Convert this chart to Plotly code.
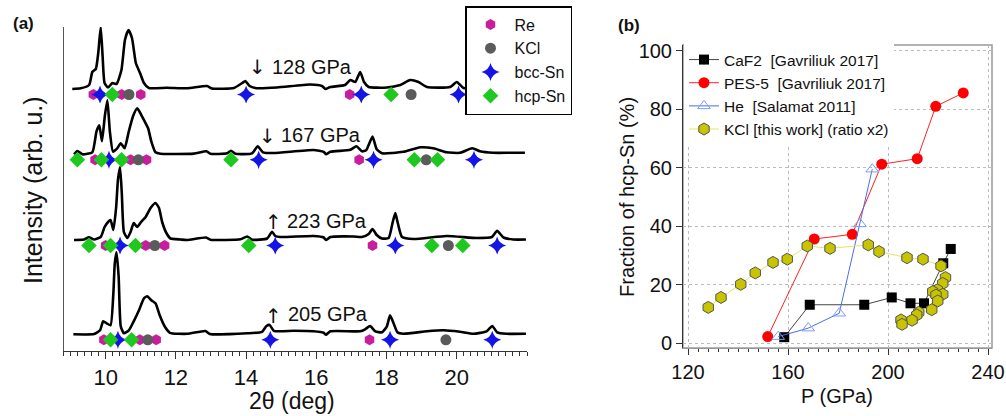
import plotly.graph_objects as go

# ---------------- Panel (a): XRD patterns ----------------
pressures = ["128 GPa", "167 GPa", "223 GPa", "205 GPa"]
arrows = ["↓", "↓", "↑", "↑"]
offsets = [262, 196.7, 111, 16.7]

tt1 = [9.05, 9.29, 9.53, 9.62, 9.72, 9.79, 9.86, 9.915, 9.97, 10.07, 10.19, 10.31, 10.45, 10.55, 10.65,
       10.75, 10.86, 10.98, 11.09, 11.23, 11.75, 12.32, 12.89, 13.03, 13.65, 13.89, 13.98, 14.10, 14.26,
       14.88, 15.83, 16.16, 16.26, 16.40, 16.82, 16.97, 17.11, 17.25, 17.36, 17.49, 18.01, 18.39, 18.67,
       18.91, 19.15, 19.81, 20.0, 20.19, 20.6, 21.2, 21.9]
I1 = [0, 0.7, 4, 17, 20, 36, 62, 32, 6, 1.5, 6, 5, 19, 49, 59, 51, 26, 16, 6, 1, 1.3, 0.7, 3, 0.5, 1,
      6, 8, 3, 1, 1.5, 4.5, 3, 0, 2, 4, 9, 7, 17, 7, 2, 1.5, 4, 9, 7, 2, 2, 7, 1, 1, 1.5, 1]

tt2 = [9.10, 9.195, 9.34, 9.62, 9.74, 9.82, 9.895, 9.98, 10.05, 10.12, 10.21, 10.33, 10.43, 10.54, 10.66,
       10.79, 10.90, 11.02, 11.14, 11.21, 11.30, 11.42, 11.56, 12.51, 12.87, 12.985, 13.46, 13.57, 13.70,
       14.17, 14.33, 14.48, 14.79, 15.92, 16.21, 16.275, 16.40, 16.97, 17.14, 17.30, 17.42, 17.60, 17.72,
       17.87, 18.48, 18.96, 19.33, 19.71, 20.09, 20.44, 20.66, 21.04, 21.52, 21.94]
I2 = [0, 3.3, 0, 2, 23, 29, 13, 39, 54, 23, 2.7, 6, 11, 6, 23, 39, 46, 39, 31, 26, 13, 2, 0.5, 0.7, 3,
      0.5, 1, 3.5, 0.5, 1, 8, 2, 1.3, 4.3, 2.5, 0, 2.5, 4.5, 8, 3, 4, 17.7, 5, 1, 2.5, 7, 6, 2, 1.5, 6,
      3, 1.5, 1.5, 1.5]

tt3 = [9.10, 9.38, 9.525, 9.67, 9.86, 9.97, 10.07, 10.14, 10.22, 10.30, 10.35, 10.41, 10.46, 10.52, 10.62,
       10.71, 10.80, 10.90, 11.01, 11.14, 11.28, 11.42, 11.52, 11.61, 11.73, 11.85, 12.13, 12.32, 12.86,
       12.985, 13.84, 14.03, 14.17, 14.60, 14.74, 14.83, 14.975, 15.92, 16.21, 16.275, 16.40, 17.06, 17.30,
       17.49, 17.60, 17.72, 17.87, 18.06, 18.17, 18.25, 18.32, 18.44, 18.77, 19.71, 20.57, 21.0, 21.15,
       21.33, 21.61, 21.97]
I3 = [0, 0.5, 2.7, 0.5, 3, 13, 18, 20, 10, 33, 60, 73, 47, 8, 2, 8, 17, 13, 18, 23, 32, 37, 32, 18, 7,
      1.5, 0.5, 0, 2.5, 0.3, 0.7, 3.5, 0.3, 1.5, 8.3, 4, 3, 4, 2.5, 0, 3, 3.5, 3, 6, 11, 5, 1.5, 2, 17,
      27, 17, 3, 1, 4, 2, 3, 9.3, 2.5, 0.5, 0.5]

tt4 = [9.08, 9.67, 9.84, 9.93, 10.03, 10.14, 10.22, 10.26, 10.31, 10.37, 10.43, 10.52, 10.66, 10.80, 10.95,
       11.09, 11.185, 11.30, 11.42, 11.54, 11.68, 11.83, 12.32, 12.84, 12.97, 14.03, 14.455, 14.58, 14.67,
       14.79, 15.35, 15.92, 16.21, 16.275, 16.40, 17.25, 17.39, 17.53, 17.68, 17.87, 18.01, 18.10, 18.20,
       18.31, 18.48, 19.15, 19.62, 20.09, 20.47, 20.85, 21.01, 21.15, 21.42, 21.97]
I4 = [0, 0.3, 4, 13, 11, 9, 41, 71, 82, 58, 8, 1, 4, 13, 24, 36, 38, 34, 31, 19, 8, 1.5, 0.5, 3.3, 0.3,
      1, 2.5, 8.3, 9.3, 3.5, 3.5, 3, 1.5, -0.5, 3, 3, 5, 8.3, 3, 2, 8, 19, 11, 2, 0.5, 3, 4, 2.5, 0.5, 3,
      8.3, 2, 0.5, 0.5]

two_theta = [tt1, tt2, tt3, tt4]
intensity = [I1, I2, I3, I4]

# reflection positions (2theta) under each pattern
re_pos = [[9.65, 10.455, 11.0, 16.95], [9.70, 10.71, 11.165, 17.22],
          [10.0, 11.14, 11.68, 17.60], [9.95, 10.975, 11.44, 17.515]]
kcl_pos = [[10.665, 18.70], [10.93, 19.13], [11.40, 19.76], [11.20, 19.69]]
bcc_pos = [[9.84, 14.0, 17.28, 20.05], [10.095, 14.36, 17.63, 20.49],
           [10.41, 14.83, 18.25, 21.15], [10.35, 14.69, 18.10, 21.01]]
hcp_pos = [[10.19, 18.13], [9.195, 9.88, 10.455, 13.57, 18.79, 19.45],
           [9.525, 10.14, 10.85, 14.075, 19.29, 20.17], [10.14, 10.74]]
tick_a = [10, 12, 14, 16, 18, 20]
tick_a_text = ["10", "12", "14", "16", "18", "20"]

# ---------------- Panel (b): fraction of hcp-Sn ----------------
caf2_p = [158.5, 168.7, 190.5, 201.5, 209.0, 214.4, 222.1, 225.1]
caf2_f = [2.0, 13.1, 13.1, 15.6, 13.6, 13.6, 27.3, 32.2]
pes_p = [151.9, 170.5, 185.7, 197.5, 211.7, 219.1, 230.1]
pes_f = [2.2, 35.6, 37.2, 61.2, 63.1, 81.0, 85.6]
he_p = [156.1, 168.1, 180.5, 188.8, 193.7]
he_f = [2.2, 5.1, 10.2, 40.8, 59.5]
kcl_p = [128.1, 133.2, 141.1, 146.9, 154.0, 159.7, 167.7, 176.8, 192.1, 196.4, 207.6, 214.0, 221.2,
         223.0, 221.9, 219.7, 217.9, 221.9, 219.2, 219.9, 217.5, 212.3, 211.5, 209.6, 205.2, 205.6]
kcl_f = [12.2, 15.6, 20.1, 24.0, 27.6, 28.7, 33.2, 32.4, 33.6, 31.3, 29.2, 28.7, 26.4,
         22.4, 20.4, 18.2, 17.6, 16.7, 16.4, 14.4, 11.4, 10.5, 9.6, 7.8, 7.9, 6.4]
tick_b_x = [120, 160, 200, 240]
tick_b_y = [0, 20, 40, 60, 80, 100]

W, H = 1006, 416
FONT = "Liberation Sans, Arial, sans-serif"


def fx(p):
    return p / W


def fy(p):
    return 1 - p / H


fig = go.Figure()

# XRD curves
for k in range(4):
    fig.add_trace(go.Scatter(
        x=two_theta[k], y=[v + offsets[k] for v in intensity[k]],
        mode="lines", line=dict(color="black", width=2.6, shape="spline", smoothing=0.5),
        showlegend=False, hoverinfo="skip", xaxis="x", yaxis="y"))

MARK_DY = -5.5
phases = [
    ("Re", re_pos, dict(symbol="hexagon", size=11, color="#c81e9e")),
    ("KCl", kcl_pos, dict(symbol="circle", size=11, color="#5b5b5b")),
    ("bcc-Sn", bcc_pos, dict(symbol="star-diamond", size=13, color="#1414e6")),
    ("hcp-Sn", hcp_pos, dict(symbol="diamond", size=12, color="#1fc81f")),
]
for name, pos, mk in phases:
    xs, ys = [], []
    for k in range(4):
        xs += pos[k]
        ys += [offsets[k] + MARK_DY] * len(pos[k])
    fig.add_trace(go.Scatter(x=xs, y=ys, mode="markers", name=name,
                             marker=dict(line=dict(width=0), **mk),
                             xaxis="x", yaxis="y", legend="legend2"))

# Panel b series
fig.add_trace(go.Scatter(x=caf2_p, y=caf2_f, mode="lines+markers",
                         name="CaF2\u00a0\u00a0[Gavriliuk 2017]",
                         line=dict(color="#444444", width=1),
                         marker=dict(symbol="square", size=10, color="black"),
                         xaxis="x2", yaxis="y2", legend="legend"))
fig.add_trace(go.Scatter(x=pes_p, y=pes_f, mode="lines+markers",
                         name="PES-5\u00a0\u00a0[Gavriliuk 2017]",
                         line=dict(color="#ff2020", width=1),
                         marker=dict(symbol="circle", size=11, color="#ff0000"),
                         xaxis="x2", yaxis="y2", legend="legend"))
fig.add_trace(go.Scatter(x=he_p, y=he_f, mode="lines+markers",
                         name="He\u00a0\u00a0[Salamat 2011]",
                         line=dict(color="#4a6ee8", width=1),
                         marker=dict(symbol="triangle-up-open", size=11, color="#7d9bff",
                                     line=dict(width=1, color="#7d9bff")),
                         xaxis="x2", yaxis="y2", legend="legend"))
fig.add_trace(go.Scatter(x=kcl_p, y=kcl_f, mode="lines+markers",
                         name="KCl [this work] (ratio x2)",
                         line=dict(color="#e4e468", width=1),
                         marker=dict(symbol="hexagon", size=12, color="#c8c400",
                                     line=dict(width=1, color="#555555")),
                         xaxis="x2", yaxis="y2", legend="legend"))

annotations = []
# pressure labels
arrow_px = [257.7, 267.3, 273.3, 273.3]
arrow_py = [67, 136, 222, 316]
text_px = [269.5, 279, 284.5, 286]
text_py = [66.7, 135, 220.7, 314]
for k in range(4):
    annotations.append(dict(x=fx(arrow_px[k]), y=fy(arrow_py[k]), xref="paper", yref="paper",
                            text=arrows[k], showarrow=False, xanchor="center", yanchor="middle",
                            font=dict(family="DejaVu Sans", size=20, color="#111")))
    annotations.append(dict(x=fx(text_px[k]), y=fy(text_py[k]), xref="paper", yref="paper",
                            text=pressures[k], showarrow=False, xanchor="left", yanchor="middle",
                            font=dict(family=FONT, size=20, color="#111")))

annotations += [
    dict(x=fx(11), y=fy(23), xref="paper", yref="paper", text="<b>(a)</b>", showarrow=False,
         xanchor="left", yanchor="middle", font=dict(family=FONT, size=17, color="#111")),
    dict(x=fx(616), y=fy(25), xref="paper", yref="paper", text="<b>(b)</b>", showarrow=False,
         xanchor="left", yanchor="middle", font=dict(family=FONT, size=17, color="#111")),
    dict(x=fx(292), y=fy(401), xref="paper", yref="paper", text="2θ (deg)", showarrow=False,
         xanchor="center", yanchor="middle", font=dict(family=FONT, size=23, color="#111")),
    dict(x=fx(33), y=fy(190), xref="paper", yref="paper", text="Intensity (arb. u.)", showarrow=False,
         textangle=-90, xanchor="center", yanchor="middle", font=dict(family=FONT, size=25, color="#111")),
    dict(x=fx(837), y=fy(396), xref="paper", yref="paper", text="P (GPa)", showarrow=False,
         xanchor="center", yanchor="middle", font=dict(family=FONT, size=20, color="#111")),
    dict(x=fx(627), y=fy(197), xref="paper", yref="paper", text="Fraction of hcp-Sn (%)", showarrow=False,
         textangle=-90, xanchor="center", yanchor="middle", font=dict(family=FONT, size=20, color="#111")),
]

fig.update_layout(
    width=W, height=H, margin=dict(l=0, r=0, t=0, b=0, autoexpand=False),
    paper_bgcolor="white", plot_bgcolor="white",
    font=dict(family=FONT, color="#111"),
    xaxis=dict(domain=[fx(63.5), fx(527)], range=[8.8, 22.0], anchor="y", automargin=False,
               showline=True, linecolor="#333", linewidth=1, showgrid=False, zeroline=False,
               ticks="outside", ticklen=7, tickcolor="#333", tickvals=tick_a, ticktext=tick_a_text,
               tickfont=dict(size=22, color="#111"),
               minor=dict(ticks="outside", ticklen=4, tickcolor="#333", tickmode="linear",
                          tick0=9.0, dtick=0.2, showgrid=False)),
    yaxis=dict(domain=[fy(351), fy(27)], range=[0, 324], anchor="x", automargin=False,
               showline=True, linecolor="#555", linewidth=1, showgrid=False, zeroline=False,
               showticklabels=False, ticks=""),
    xaxis2=dict(domain=[fx(683), fx(992)], range=[118, 241.6], anchor="y2", automargin=False,
                showline=True, linecolor="#999", linewidth=1, zeroline=False,
                showgrid=True, gridcolor="#bbbbbb", griddash="dot", gridwidth=1,
                ticks="outside", ticklen=6, tickcolor="#333", tickvals=tick_b_x,
                tickfont=dict(size=20, color="#111"),
                minor=dict(ticks="outside", ticklen=3, tickcolor="#333", tickmode="linear",
                           tick0=120, dtick=4, showgrid=False)),
    yaxis2=dict(domain=[fy(348), fy(45)], range=[-1.7, 102], anchor="x2", automargin=False,
                showline=True, linecolor="#333", linewidth=1, zeroline=False,
                showgrid=True, gridcolor="#bbbbbb", griddash="dot", gridwidth=1,
                ticks="outside", ticklen=6, tickcolor="#333", tickvals=tick_b_y,
                tickfont=dict(size=20, color="#111")),
    legend=dict(x=fx(684), y=fy(43), xanchor="left", yanchor="top", bgcolor="white",
                borderwidth=0, font=dict(family=FONT, size=15.5, color="#111"), tracegroupgap=0),
    legend2=dict(x=fx(465), y=fy(6), xanchor="left", yanchor="top", bgcolor="white",
                 bordercolor="black", borderwidth=1.5, font=dict(family=FONT, size=16, color="#111"),
                 tracegroupgap=0, itemwidth=38),
    shapes=[dict(type="rect", xref="paper", yref="paper", x0=fx(683), x1=fx(992), y0=fy(348), y1=fy(45),
                 line=dict(color="#999", width=1.5), layer="below")],
    annotations=annotations,
    showlegend=True,
)

fig.write_html("out.html", config={"displayModeBar": False},
               post_script="document.body.style.margin='0';document.body.style.overflow='hidden';")
